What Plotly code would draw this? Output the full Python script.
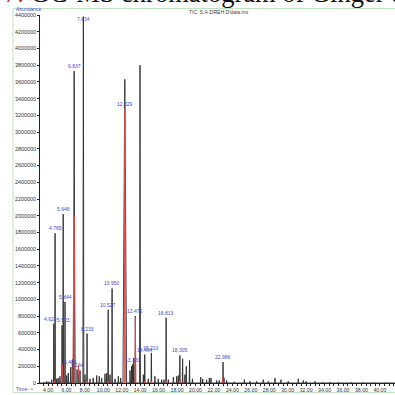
import plotly.graph_objects as go

# ---- TIC peaks: retention time (min) and abundance ----
peak_time = [3.55, 3.86, 4.10, 4.40, 4.629, 4.765, 4.94, 5.10, 5.30, 5.523,
             5.646, 5.844, 6.03, 6.20, 6.466, 6.65, 6.837, 7.144, 7.29, 7.47,
             7.834, 8.01, 8.233, 8.55, 8.90, 9.28, 9.56, 9.82, 10.18, 10.37,
             10.527, 10.72, 10.950, 11.27, 11.63, 11.88, 12.329, 12.90, 13.06,
             13.181, 13.30, 13.475, 13.98, 14.34, 14.494, 14.88, 15.210, 15.60,
             15.96, 16.33, 16.58, 16.813, 17.05, 17.60, 17.96, 18.13, 18.305,
             18.60, 18.85, 19.00, 19.35, 19.67, 20.56, 20.78, 21.20, 21.50,
             21.68, 22.30, 22.58, 22.986, 23.09, 23.38, 24.20, 25.30, 25.90,
             26.63, 27.35, 27.90, 28.62, 29.27, 30.06, 31.15, 31.70, 32.00,
             32.96, 33.80, 34.60, 35.50, 36.90, 38.20, 39.40, 40.60]
peak_abund = [10000, 20000, 15000, 40000, 710000, 1790000, 50000, 60000, 80000, 690000,
              2020000, 970000, 90000, 120000, 190000, 280000, 3730000, 160000, 120000, 150000,
              4380000, 100000, 590000, 50000, 60000, 90000, 80000, 60000, 110000, 120000,
              875000, 100000, 1130000, 50000, 80000, 60000, 3630000, 150000, 200000,
              220000, 300000, 800000, 3800000, 100000, 340000, 50000, 360000, 80000,
              50000, 40000, 40000, 780000, 40000, 70000, 80000, 90000, 330000,
              290000, 100000, 200000, 270000, 50000, 70000, 50000, 40000, 60000,
              60000, 30000, 30000, 250000, 60000, 30000, 15000, 40000, 20000,
              20000, 40000, 20000, 60000, 40000, 20000, 50000, 30000, 20000,
              20000, 10000, 10000, 8000, 8000, 8000, 6000, 6000]

# ---- integration marks (red) ----
integ_time = [4.70, 5.55, 6.83, 7.30, 8.233, 10.527, 12.329, 13.475, 14.494, 15.210,
              16.813, 18.305, 22.95]
integ_abund = [30000, 220000, 2000000, 200000, 20000, 20000, 3280000, 780000, 20000, 20000,
               20000, 30000, 70000]

# ---- labelled peaks ----
label_time = [4.629, 4.765, 5.523, 5.646, 5.844, 6.466, 6.837, 7.144, 7.834, 8.233,
              10.527, 10.950, 12.329, 13.181, 13.475, 14.494, 15.210, 16.813, 18.305,
              22.986]

y_ticks = list(range(0, 4400001, 200000))
x_ticks = list(range(4, 41, 2))

# peak shape half-widths (min); unlisted peaks use the default
HALF_W = 0.035
half_w_special = {5.646: 0.04, 6.837: 0.07, 7.834: 0.05, 12.329: 0.2, 13.98: 0.05}
integ_half_w = {6.83: 0.14, 12.329: 0.06, 5.55: 0.08, 7.30: 0.1, 13.475: 0.04}

# build the TIC polyline from the peak list
tx, ty = [3.13], [0]
for t, a in zip(peak_time, peak_abund):
    w = half_w_special.get(t, HALF_W)
    tx += [t - w, t, t + w]
    ty += [0, a, 0]
tx.append(41.7)
ty.append(0)

# red integration marks, drawn as separate segments
rx, ry = [], []
for t, a in zip(integ_time, integ_abund):
    w = integ_half_w.get(t, 0.06)
    rx += [t - w, t, t + w, None]
    ry += [0, a, 0, None]

fig = go.Figure()
fig.add_trace(go.Scatter(x=tx, y=ty, mode="lines",
                         line=dict(color="#2a2a2a", width=0.9), hoverinfo="skip"))
fig.add_trace(go.Scatter(x=rx, y=ry, mode="lines",
                         line=dict(color="#e0484c", width=1.0), hoverinfo="skip"))

LABEL_BLUE = "#4646d2"
label_xshift = {4.629: -3, 5.523: 1}
for t in label_time:
    if t == 12.329:
        a = integ_abund[integ_time.index(t)]
    else:
        a = peak_abund[peak_time.index(t)]
    ys = -7 if t == 7.834 else 0
    fig.add_annotation(x=t, y=a, xref="x", yref="y", text=f"{t:.3f}",
                       showarrow=False, yanchor="bottom", yshift=ys,
                       xshift=label_xshift.get(t, 0),
                       font=dict(family="Liberation Sans", size=5, color=LABEL_BLUE))

def px_x(p):
    return (p - 40) / 355

def px_y(p):
    return (383 - p) / 368

# frame around the chart
fig.add_shape(type="rect", xref="paper", yref="paper",
              x0=px_x(13), x1=px_x(400), y0=px_y(392.5), y1=px_y(8.5),
              line=dict(color="#bfe3bf", width=1), layer="below")

fig.add_annotation(xref="paper", yref="paper", x=px_x(14), y=px_y(9.5),
                   xanchor="left", yanchor="middle", showarrow=False,
                   text="Abundance",
                   font=dict(family="Liberation Sans", size=5, color=LABEL_BLUE))
fig.add_annotation(xref="paper", yref="paper", x=px_x(219), y=px_y(11.5),
                   xanchor="center", yanchor="middle", showarrow=False,
                   text="TIC: S.A ZIREH.D\\data.ms",
                   font=dict(family="Liberation Sans", size=5, color="#444"))
fig.add_annotation(xref="paper", yref="paper", x=px_x(14), y=px_y(388.5),
                   xanchor="left", yanchor="middle", showarrow=False,
                   text="Time-->",
                   font=dict(family="Liberation Sans", size=5, color=LABEL_BLUE))

# caption line running off the top edge
fig.add_annotation(xref="paper", yref="paper", x=px_x(2), y=px_y(10),
                   xanchor="left", yanchor="bottom", showarrow=False,
                   text="<span style='color:#e02020'>7.</span> GC-MS chromatogram of Ginger extract",
                   font=dict(family="Liberation Serif", size=26.5, color="#111"))

fig.update_layout(
    width=395, height=395,
    margin=dict(l=40, r=0, t=15, b=12),
    paper_bgcolor="white", plot_bgcolor="white",
    showlegend=False,
    xaxis=dict(range=[3.13, 41.64], tickmode="array", tickvals=x_ticks,
               ticktext=[f"{v:.2f}" for v in x_ticks],
               ticks="outside", ticklen=2, tickcolor="#222", showline=True,
               linecolor="#222", linewidth=1, showgrid=False, zeroline=False,
               automargin=False,
               minor=dict(tick0=3.5, dtick=0.5, ticks="outside", ticklen=2,
                          tickcolor="#222", showgrid=False),
               tickfont=dict(family="Liberation Sans", size=5.2, color="#333")),
    yaxis=dict(range=[0, 4400000], tickmode="array", tickvals=y_ticks,
               ticktext=[str(v) for v in y_ticks],
               ticks="outside", ticklen=2, tickcolor="#222", showline=True,
               linecolor="#222", linewidth=1, showgrid=False, zeroline=False,
               automargin=False,
               tickfont=dict(family="Liberation Sans", size=5.4, color="#333")),
)

fig.write_html("out.html")
